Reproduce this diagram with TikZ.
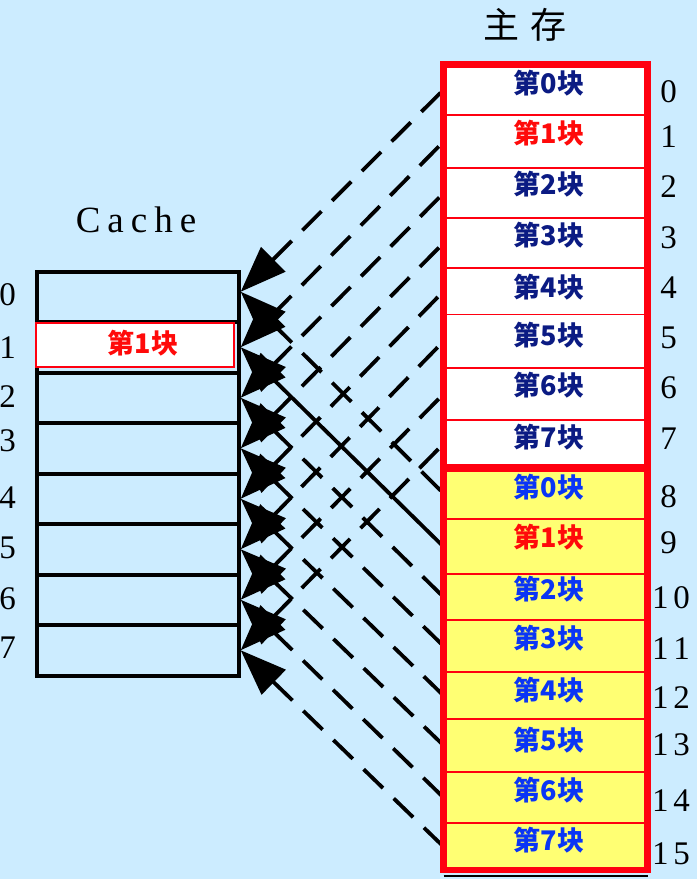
\documentclass[tikz,border=0pt]{standalone}
\usepackage{fontspec}
\setmainfont{Liberation Serif}
\newfontfamily\cjk{Noto Sans CJK SC}
\usetikzlibrary{arrows.meta}
\definecolor{bgblue}{HTML}{CCECFF}
\definecolor{memyellow}{HTML}{FFFF73}
\definecolor{memred}{HTML}{FF0010}
\definecolor{navytext}{HTML}{0B1B83}
\definecolor{bluetext}{HTML}{0A35F5}
\definecolor{redtext}{HTML}{FF0A0A}
\newcommand\twodig[2]{#1\kern5pt#2}
\begin{document}
\begin{tikzpicture}[x=1pt,y=-1pt,
  ccell/.style={draw=black, line width=4pt, minimum width=202.2pt, minimum height=50.5pt, inner sep=0pt, outer sep=0pt},
  mcell/.style={draw=memred, line width=1.7pt, minimum width=204pt, inner sep=0pt, outer sep=0pt},
  blk/.style={font=\cjk\bfseries\fontsize{27}{27}\selectfont, anchor=base, inner sep=0pt},
  num/.style={font=\fontsize{33}{33}\selectfont, anchor=base, inner sep=0pt},
  conn/.style={line width=3.8pt, dash pattern=on 27pt off 15pt, arrows={Triangle[length=46pt,width=34pt]-}},
  connsolid/.style={line width=3.8pt, solid, arrows={Triangle[length=46pt,width=34pt]-}}
]
\fill[bgblue] (0,0) rectangle (697,879);
\useasboundingbox (0,0) rectangle (697,879);

% titles
\node[font=\fontsize{37}{37}\selectfont, anchor=base, inner sep=0pt] (ctitle) at (136,232.6) {C\kern7pt a\kern7pt c\kern7pt h\kern7pt e};
\node[font=\cjk\fontsize{36}{36}\selectfont, anchor=base, inner sep=0pt] (mtitle) at (525,38.5) {主\kern12pt 存};

% cache cells
\foreach \i in {0,...,7}{
  \node[ccell] (c\i) at (137.6,{296.75+50.5*\i}) {};
}
\node[draw=memred, line width=2pt, fill=white, minimum width=198pt, minimum height=44.6pt, inner sep=0pt, outer sep=0pt] (chl) at (135,345) {};
\node[blk, text=redtext] (ctext) at (143,353) {第1块};

% cache line numbers
\foreach \i/\y in {0/294,1/347,2/396,3/440,4/497,5/547,6/598,7/647}{
  \node[num] (l\i) at (7.5,{\y+11.2}) {\i};
}

% main memory cells
\foreach \i/\a/\b/\f in {0/64.5/115/white,1/115/168.3/white,2/168.3/218/white,3/218/268/white,
  4/268/314.5/white,5/314.5/368/white,6/368/420/white,7/420/467.5/white,
  8/467.5/519.3/memyellow,9/519.3/574/memyellow,10/574/620/memyellow,11/620/672/memyellow,
  12/672/719/memyellow,13/719/771.7/memyellow,14/771.7/823.3/memyellow,15/823.3/870/memyellow}{
  \node[mcell, fill=\f, minimum height={\b-\a}] (m\i) at (545.5,{(\a+\b)/2}) {};
}

% tips on the cache
\coordinate (p0) at ([xshift=2pt,yshift=5pt]c0.east);
\foreach \i in {1,...,7}{
  \coordinate (p\i) at ([xshift=2pt]c\i.east);
}

% connectors
\foreach \j in {0,...,7}{
  \draw[conn] (p\j) -- (m\j.west);
}
\foreach \j/\k in {8/0,10/2,11/3,12/4,13/5,14/6,15/7}{
  \draw[conn] (p\k) -- (m\j.west);
}
\draw[connsolid] (p1) -- (m9.west);

% main memory frame
\draw[memred, line width=6.5pt] (m0.north west) rectangle (m15.south east);
\draw[memred, line width=8pt] (m7.south west) -- (m7.south east);
\draw[black, line width=1.5pt] ([yshift=-6pt]m15.south west) -- ([yshift=-6pt]m15.south east);

% block labels
\foreach \i/\ty/\col/\txt in {0/83.5/navytext/0,1/133.5/redtext/1,2/184.5/navytext/2,3/235/navytext/3,
  4/287/navytext/4,5/335/navytext/5,6/385/navytext/6,7/437/navytext/7,
  8/487.5/bluetext/0,9/537.5/redtext/1,10/589/bluetext/2,11/638/bluetext/3,
  12/690/bluetext/4,13/740/bluetext/5,14/790.5/bluetext/6,15/840/bluetext/7}{
  \node[blk, text=\col] (t\i) at (549,{\ty+10.3}) {第\txt 块};
}

% memory numbers
\foreach \i/\y in {0/91,1/136,2/186,3/237,4/287,5/337,6/387,7/438,8/496,9/542}{
  \node[num] (r\i) at (668.5,{\y+11.2}) {\i};
}
\foreach \i/\y/\lab in {10/597/\twodig10,11/648/\twodig11,12/697/\twodig12,13/744/\twodig13,14/800/\twodig14,15/853/\twodig15}{
  \node[num] (r\i) at (671,{\y+11.2}) {\lab};
}
\end{tikzpicture}
\end{document}
